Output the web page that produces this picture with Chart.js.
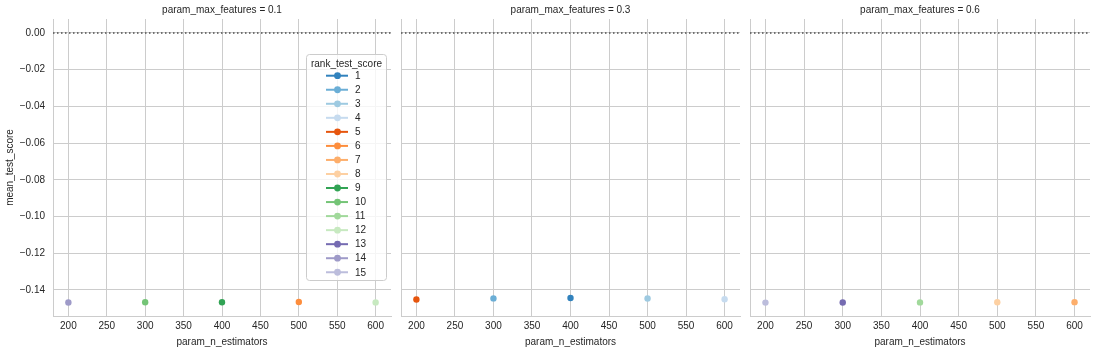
<!DOCTYPE html>
<html lang="en">
<head>
    <meta charset="UTF-8">
    <title>mean_test_score by param_n_estimators</title>
    <script src="https://cdn.jsdelivr.net/npm/chart.js"></script>
    <style>
        body {
            margin: 0;
            background: #fff;
        }
        #wrap {
            position: relative;
            width: 1095px;
            height: 352px;
        }
        .panel {
            position: absolute;
            top: 0;
        }
    </style>
</head>
<body>
    <div id="wrap">
        <div class="panel" style="left:0px"><canvas id="p0" width="395" height="352"></canvas></div>
        <div class="panel" style="left:397px"><canvas id="p1" width="347" height="352"></canvas></div>
        <div class="panel" style="left:746px"><canvas id="p2" width="349" height="352"></canvas></div>
    </div>

    <script>
        // data
        const estimators = [200, 300, 400, 500, 600];
        const maxFeatures = ['0.1', '0.3', '0.6'];

        const ranksMf01 = [14, 10, 9, 6, 12];
        const ranksMf03 = [5, 2, 1, 3, 4];
        const ranksMf06 = [15, 13, 11, 8, 7];

        const scoresMf01 = [-0.14686, -0.14675, -0.14672, -0.14660, -0.14680];
        const scoresMf03 = [-0.1452, -0.1446, -0.1444, -0.1447, -0.1451];
        const scoresMf06 = [-0.14690, -0.14683, -0.14678, -0.14670, -0.14665];

        const rankLabels = ['1', '2', '3', '4', '5', '6', '7', '8', '9', '10', '11', '12', '13', '14', '15'];
        const rankColors = [
            '#3182bd', '#6baed6', '#9ecae1', '#c6dbef',
            '#e6550d', '#fd8d3c', '#fdae6b', '#fdd0a2',
            '#31a354', '#74c476', '#a1d99b', '#c7e9c0',
            '#756bb1', '#9e9ac8', '#bcbddc'
        ];

        const xTicks = [200, 250, 300, 350, 400, 450, 500, 550, 600];
        const yTicks = [0, -0.02, -0.04, -0.06, -0.08, -0.10, -0.12, -0.14];
        const refLine = 0;

        const FONT = "'Liberation Sans', Arial, sans-serif";
        const TEXT = '#262626';
        const GRID = '#cccccc';

        Chart.defaults.font.family = FONT;
        Chart.defaults.font.size = 10;
        Chart.defaults.color = TEXT;

        const zeroLine = {
            id: 'zeroLine',
            beforeDatasetsDraw(chart) {
                const { ctx, chartArea } = chart;
                const y = chart.scales.y.getPixelForValue(refLine);
                ctx.save();
                ctx.strokeStyle = '#4d4d4d';
                ctx.lineWidth = 1.5;
                ctx.setLineDash([1.5, 2.5]);
                ctx.beginPath();
                ctx.moveTo(chartArea.left, y);
                ctx.lineTo(chartArea.right, y);
                ctx.stroke();
                ctx.restore();
            }
        };

        const panelTitle = {
            id: 'panelTitle',
            afterDraw(chart, args, opts) {
                const { ctx, chartArea } = chart;
                ctx.save();
                ctx.font = '10px ' + FONT;
                ctx.fillStyle = TEXT;
                ctx.textAlign = 'center';
                ctx.textBaseline = 'middle';
                ctx.fillText(opts.text, (chartArea.left + chartArea.right) / 2, 10);
                ctx.restore();
            }
        };

        // hue legend, drawn inside the first panel
        const rankLegend = {
            id: 'rankLegend',
            afterDraw(chart) {
                const { ctx } = chart;
                const x0 = 306.5, y0 = 54.5, w = 80, h = 226;
                ctx.save();
                ctx.fillStyle = 'rgba(255,255,255,0.8)';
                ctx.strokeStyle = GRID;
                ctx.lineWidth = 1;
                ctx.beginPath();
                ctx.roundRect(x0, y0, w, h, 3);
                ctx.fill();
                ctx.stroke();

                ctx.font = '10px ' + FONT;
                ctx.fillStyle = TEXT;
                ctx.textAlign = 'center';
                ctx.textBaseline = 'middle';
                ctx.fillText('rank_test_score', x0 + w / 2, 64);

                ctx.textAlign = 'left';
                rankLabels.forEach((lab, i) => {
                    const y = 75.7 + i * 14.04;
                    ctx.strokeStyle = rankColors[i];
                    ctx.lineWidth = 2;
                    ctx.beginPath();
                    ctx.moveTo(326, y);
                    ctx.lineTo(348, y);
                    ctx.stroke();
                    ctx.fillStyle = rankColors[i];
                    ctx.beginPath();
                    ctx.arc(337.5, y, 3.4, 0, Math.PI * 2);
                    ctx.fill();
                    ctx.fillStyle = TEXT;
                    ctx.fillText(lab, 355, y + 0.5);
                });
                ctx.restore();
            }
        };

        function minusFmt(v) {
            return (v < 0 ? '\u2212' : '') + Math.abs(v).toFixed(2);
        }

        function makePanel(id, idx, ranks, scores, yWidth, padRight, first) {
            const datasets = estimators.map((est, i) => ({
                label: rankLabels[ranks[i] - 1],
                data: [{ x: est, y: scores[i] }],
                backgroundColor: rankColors[ranks[i] - 1],
                borderColor: rankColors[ranks[i] - 1],
                pointRadius: 3.2,
                pointBorderWidth: 0,
                showLine: false
            }));

            const plugins = [zeroLine, panelTitle];
            if (first) plugins.push(rankLegend);

            return new Chart(document.getElementById(id), {
                type: 'scatter',
                data: { datasets },
                plugins,
                options: {
                    responsive: false,
                    devicePixelRatio: 1,
                    animation: false,
                    layout: { padding: { top: 19, right: padRight, left: 0, bottom: 0 } },
                    plugins: {
                        legend: { display: false },
                        tooltip: { enabled: false },
                        panelTitle: { text: 'param_max_features = ' + maxFeatures[idx] }
                    },
                    scales: {
                        x: {
                            type: 'linear',
                            min: 180,
                            max: 620,
                            afterBuildTicks: s => { s.ticks = xTicks.map(v => ({ value: v })); },
                            afterFit: s => { s.height = 36; },
                            grid: { color: GRID, lineWidth: 1, drawTicks: false },
                            border: { display: true, color: GRID, width: 1 },
                            ticks: { padding: 4, color: TEXT, callback: v => String(v) },
                            title: {
                                display: true,
                                text: 'param_n_estimators',
                                color: TEXT,
                                padding: { top: 0, bottom: 4 }
                            }
                        },
                        y: {
                            type: 'linear',
                            min: -0.1542,
                            max: 0.0076,
                            afterBuildTicks: s => { s.ticks = yTicks.map(v => ({ value: v })); },
                            afterFit: s => { s.width = yWidth; },
                            grid: { color: GRID, lineWidth: 1, drawTicks: false },
                            border: { display: true, color: GRID, width: 1 },
                            ticks: {
                                display: first,
                                padding: 8,
                                color: TEXT,
                                callback: v => minusFmt(v)
                            },
                            title: {
                                display: first,
                                text: 'mean_test_score',
                                color: TEXT,
                                padding: { top: 4, bottom: 0 }
                            }
                        }
                    }
                }
            });
        }

        makePanel('p0', 0, ranksMf01, scoresMf01, 53, 4, true);
        makePanel('p1', 1, ranksMf03, scoresMf03, 4, 4, false);
        makePanel('p2', 2, ranksMf06, scoresMf06, 4, 5, false);
    </script>
</body>
</html>
